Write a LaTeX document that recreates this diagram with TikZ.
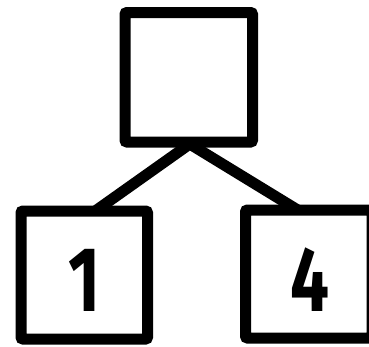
\documentclass[tikz,border=0pt]{standalone}
\usepackage{fontspec}
\setmainfont{Fira Sans}
\usetikzlibrary{calc}
\begin{document}
\begin{tikzpicture}[x=1pt,y=-1pt,
  box/.style={draw=black,line width=11pt,rounded corners=2pt,inner sep=0pt,outer sep=0pt,fill=white},
  link/.style={draw=black,line width=11pt,line join=miter},
  digit/.style={font=\fontsize{92}{92}\selectfont\bfseries,inner sep=0pt,xscale=0.75}]
\fill[white] (0,0) rectangle (369,346);
\useasboundingbox (0,0) rectangle (369,346);
\node[box,minimum width=127.5pt,minimum height=129.5pt] (top) at (188.75,77.25) {};
\node[box,minimum width=126.5pt,minimum height=128pt] (left) at (84.25,275) {};
\node[box,minimum width=126.5pt,minimum height=128pt] (right) at (308.75,274) {};
\draw[link] ($(left.north)+(11,0)$) -- ($(top.south)+(1,2)$) -- ($(right.north)+(-11,0)$);
\node[digit] (one) at (85,280) {1};
\node[digit] (four) at (310,280) {4};
\end{tikzpicture}
\end{document}
